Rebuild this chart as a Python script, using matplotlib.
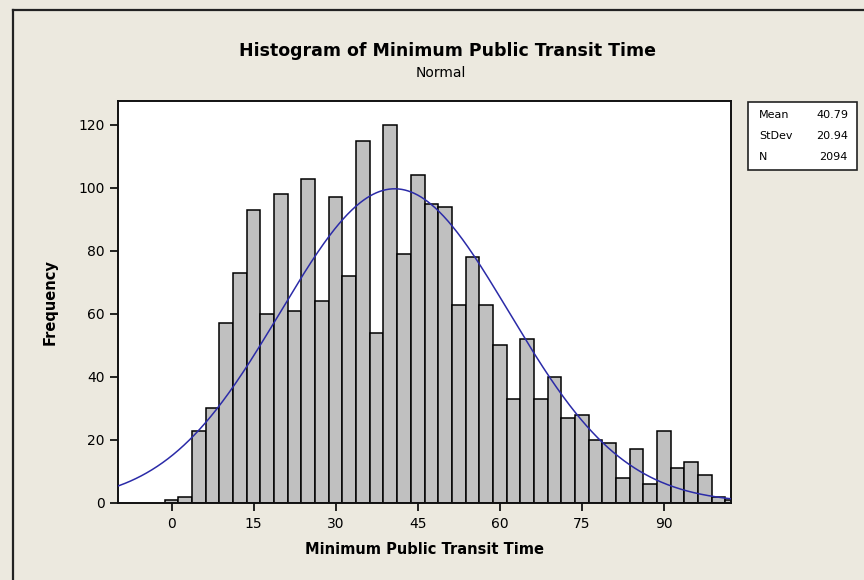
import numpy as np
import matplotlib
matplotlib.use("Agg")
import matplotlib.pyplot as plt
from matplotlib.patches import Rectangle
from matplotlib.lines import Line2D

# ---- data ----
bin_centers = [0, 2.5, 5, 7.5, 10, 12.5, 15, 17.5, 20, 22.5, 25, 27.5, 30, 32.5,
               35, 37.5, 40, 42.5, 45, 47.5, 50, 52.5, 55, 57.5, 60, 62.5, 65,
               67.5, 70, 72.5, 75, 77.5, 80, 82.5, 85, 87.5, 90, 92.5, 95, 97.5,
               100, 102.5]
counts = [1, 2, 23, 30, 57, 73, 93, 60, 98, 61, 103, 64, 97, 72,
          115, 54, 120, 79, 104, 95, 94, 63, 78, 63, 50, 33, 52,
          33, 40, 27, 28, 20, 19, 8, 17, 6, 23, 11, 13, 9,
          2, 1]
bin_width = 2.5
mean_val = 40.79
sd_val = 20.94
n_val = 2094
x_ticks = [0, 15, 30, 45, 60, 75, 90]
y_ticks = [0, 20, 40, 60, 80, 100, 120]
stat_labels = ["Mean", "StDev", "N"]
stat_values = ["40.79", "20.94", "2094"]

W, H = 864, 580
BG = "#ECE9DF"

fig = plt.figure(figsize=(W / 100, H / 100), dpi=100, facecolor=BG)

def fx(px):
    return px / W

def fy(py):
    return 1 - py / H

ax_l, ax_r, ax_t, ax_b = 118, 731, 101, 503
ax = fig.add_axes([fx(ax_l), fy(ax_b), (ax_r - ax_l) / W, (ax_b - ax_t) / H])
ax.set_facecolor("white")

ax.bar(bin_centers, counts, width=bin_width, color="#C0C0C0",
       edgecolor="black", linewidth=1.1, zorder=2)

xs = np.linspace(-12, 105, 600)
pdf = n_val * bin_width / (sd_val * np.sqrt(2 * np.pi)) * np.exp(-0.5 * ((xs - mean_val) / sd_val) ** 2)
ax.plot(xs, pdf, color="#2B2BA8", linewidth=1.1, zorder=3)

ax.set_xlim(-9.8, 102.3)
ax.set_ylim(0, 127.6)
ax.set_xticks(x_ticks)
ax.set_yticks(y_ticks)
ax.tick_params(axis="both", direction="out", length=6, width=1.2,
               labelsize=10, colors="black")
ax.tick_params(axis="x", pad=4)
ax.tick_params(axis="y", pad=3.5)
for s in ax.spines.values():
    s.set_linewidth(1.4)
    s.set_color("#111111")

ax.set_xlabel("Minimum Public Transit Time", fontsize=10.5, fontweight="bold")
ax.xaxis.label.set_va("center")
ax.xaxis.set_label_coords(0.5, (ax_b - 550) / (ax_b - ax_t))
ax.set_ylabel("Frequency", fontsize=10.5, fontweight="bold")
ax.yaxis.label.set_va("center")
ax.yaxis.set_label_coords((50 - ax_l) / (ax_r - ax_l), 0.5)

fig.text(fx(447), fy(51), "Histogram of Minimum Public Transit Time",
         ha="center", va="center", fontsize=12.5, fontweight="bold")
fig.text(fx(441), fy(73), "Normal", ha="center", va="center", fontsize=10)

# stats box
bx_l, bx_r, bx_t, bx_b = 748, 857, 102, 170
fig.patches.append(Rectangle((fx(bx_l), fy(bx_b)), (bx_r - bx_l) / W, (bx_b - bx_t) / H,
                             transform=fig.transFigure, facecolor="white",
                             edgecolor="#222222", linewidth=1.2))
row_y = [115, 136, 157]
for lab, val, ry in zip(stat_labels, stat_values, row_y):
    fig.text(fx(759), fy(ry), lab, ha="left", va="center", fontsize=8)
    fig.text(fx(848), fy(ry), val, ha="right", va="center", fontsize=8)

# outer frame lines
fig.lines.append(Line2D([fx(13), 1], [fy(9.5), fy(9.5)], transform=fig.transFigure,
                        color="#222222", linewidth=1.6))
fig.lines.append(Line2D([fx(13), fx(13)], [fy(9.5), 0], transform=fig.transFigure,
                        color="#222222", linewidth=1.6))

fig.savefig("out.png", dpi=100, facecolor=BG)
